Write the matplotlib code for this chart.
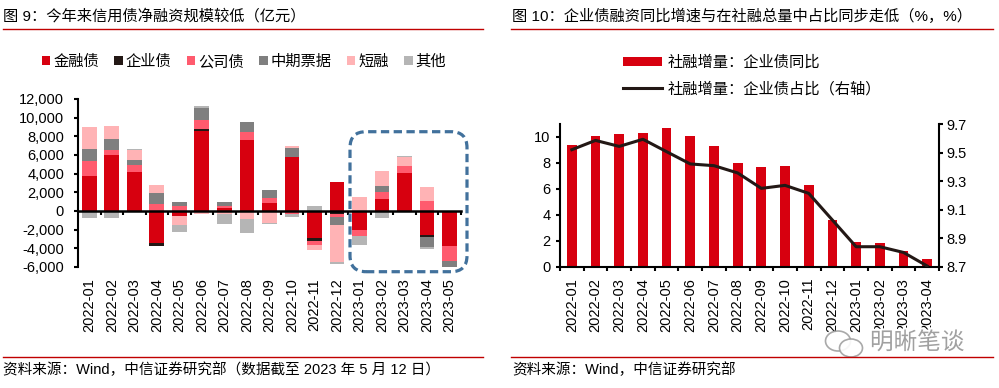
import numpy as np
import matplotlib
matplotlib.use("Agg")
import matplotlib.pyplot as plt
from matplotlib.patches import Patch, FancyBboxPatch, Ellipse
from matplotlib.lines import Line2D
from matplotlib.ticker import FuncFormatter
import matplotlib.patheffects as pe

plt.rcParams['font.family'] = ['Liberation Sans', 'Noto Sans CJK SC']
plt.rcParams['axes.unicode_minus'] = False

# ---- 图9 data (亿元)
months9 = ['2022-01', '2022-02', '2022-03', '2022-04', '2022-05', '2022-06',
           '2022-07', '2022-08', '2022-09', '2022-10', '2022-11', '2022-12',
           '2023-01', '2023-02', '2023-03', '2023-04', '2023-05']
fin_bond = [3800, 6000, 4200, -3400, -570, 8600, 300, 7600, 900, 5820,
            -2930, 3100, -2000, 1320, 4100, -2600, -3710]
ent_bond = [0, 0, 0, -350, 0, 220, 0, 0, 0, 0, -280, -290, -60, 0, 0, -180, 0]
corp_bond = [1600, 500, 750, 800, 540, 970, 250, 820, 500, -320, -400, -360,
             -600, 750, 680, 1070, -1640]
mtn = [1200, 1180, 470, 1130, 390, 1280, 450, 1100, 900, 890, 0, -860,
       0, 640, 0, -1040, -820]
short_fin = [2450, 1430, 1100, 820, -930, -320, -300, -900, -1250, 250,
             -570, -3930, 1500, 1570, 960, 1460, 0]
others = [-800, -700, 140, 0, -790, 130, -1060, -1500, -180, -360, 500,
          -250, -930, -710, 140, -220, 0]
series9 = ['金融债', '企业债', '公司债', '中期票据', '短融', '其他']
colors9 = ['#D7000F', '#231815', '#FF5B6E', '#7F7F7F', '#FFB3B5', '#B5B5B5']

# ---- 图10 data
months10 = months9[:16]
yoy = [9.39, 10.08, 10.2, 10.31, 10.69, 10.08, 9.31, 7.98, 7.67, 7.8,
       6.29, 3.58, 1.87, 1.79, 1.18, 0.59]
share = [9.52, 9.585, 9.543, 9.593, 9.506, 9.42, 9.408, 9.357, 9.249, 9.27,
         9.214, 9.027, 8.84, 8.84, 8.80, 8.705]

W, H = 999, 388
fig = plt.figure(figsize=(W / 100, H / 100), dpi=100)


def fx(px):
    return px / W


def fy(py):
    return 1 - py / H


# ---------------- left chart ----------------
ax1 = fig.add_axes([fx(78), fy(267), fx(460.7) - fx(78), fy(99) - fy(267)])
x9 = np.arange(len(months9))
pos_base = np.zeros(len(x9))
neg_base = np.zeros(len(x9))
for vals, c in zip([fin_bond, ent_bond, corp_bond, mtn, short_fin, others], colors9):
    v = np.array(vals, dtype=float)
    base = np.where(v >= 0, pos_base, neg_base)
    ax1.bar(x9, v, width=0.65, bottom=base, color=c, linewidth=0)
    pos_base += np.clip(v, 0, None)
    neg_base += np.clip(v, None, 0)

ax1.set_xlim(-0.5, len(x9) - 0.5)
ax1.set_ylim(-6000, 12000)
ax1.set_yticks(range(-6000, 12001, 2000))
ax1.yaxis.set_major_formatter(FuncFormatter(lambda v, p: f'{int(v):,}'))
for s in ['top', 'right']:
    ax1.spines[s].set_visible(False)
ax1.spines['left'].set_linewidth(1.5)
ax1.spines['bottom'].set_position(('data', 0))
ax1.spines['bottom'].set_linewidth(1.8)
ax1.set_xticks(np.arange(0.5, len(x9), 1.0))
ax1.tick_params(axis='x', length=3, width=1.5, labelbottom=False)
ax1.tick_params(axis='y', length=3, width=1.5, pad=7, labelsize=10.5)
for i, m in enumerate(months9):
    ax1.annotate(m, xy=(i, 0), xycoords=('data', 'axes fraction'),
                 xytext=(0, -8), textcoords='offset points',
                 rotation=90, ha='center', va='top', fontsize=10.5)

fig.legend([Patch(facecolor=c) for c in colors9], series9, ncol=6,
           loc='center', bbox_to_anchor=(fx(244), fy(62)), frameon=False,
           fontsize=11, handlelength=0.55, handleheight=0.55,
           handletextpad=0.2, columnspacing=1.0, borderpad=0)

fig.add_artist(FancyBboxPatch((3.50, 1.163), 1.17, 1.40,
                              boxstyle='round,pad=0,rounding_size=0.16',
                              transform=fig.dpi_scale_trans, fill=False,
                              ec='#41719C', lw=2.3, ls=(0, (2.6, 1.4))))

# ---------------- right chart ----------------
ax2 = fig.add_axes([fx(560), fy(266.7), fx(939) - fx(560), fy(124) - fy(266.7)])
x10 = np.arange(len(months10))
ax2.bar(x10, yoy, width=0.41, color='#D7000F', linewidth=0)
ax2.set_xlim(-0.5, len(x10) - 0.5)
ax2.set_ylim(0, 11)
ax2.set_yticks(range(0, 11, 2))
ax2.set_xticks(x10)
ax2.set_xticklabels(months10, rotation=90, fontsize=10.5)
ax2.set_xticks(np.arange(-0.5, len(x10), 1.0), minor=True)
ax2.tick_params(axis='x', which='major', length=0, pad=8)
ax2.tick_params(axis='x', which='minor', length=3, width=1.5)
ax2.tick_params(axis='y', length=3, width=1.5, pad=4, labelsize=10.5)
ax2.spines['top'].set_visible(False)
ax2.spines['right'].set_visible(False)
for s in ['left', 'bottom']:
    ax2.spines[s].set_linewidth(1.5)

ax3 = ax2.twinx()
ax3.plot(x10, share, color='#231815', lw=2.2)
ax3.set_ylim(8.7, 9.7)
ax3.set_yticks(np.round(np.arange(8.7, 9.71, 0.2), 1))
ax3.yaxis.set_major_formatter(FuncFormatter(lambda v, p: f'{v:.1f}'))
ax3.tick_params(axis='y', length=3, width=1.5, pad=2, labelsize=10.5)
for s in ['top', 'left', 'bottom']:
    ax3.spines[s].set_visible(False)
ax3.spines['right'].set_linewidth(1.5)

fig.legend([Patch(facecolor='#D7000F'), Line2D([], [], color='#231815', lw=2.2)],
           ['社融增量：企业债同比', '社融增量：企业债占比（右轴）'],
           loc='center left', bbox_to_anchor=(fx(615), fy(76)), frameon=False,
           fontsize=11, handlelength=2.6, handleheight=0.5,
           handletextpad=0.35, labelspacing=0.75, borderpad=0)

# ---------------- titles / sources ----------------
fig.text(fx(3), fy(16), '图 9：今年来信用债净融资规模较低（亿元）', fontsize=11,
         ha='left', va='center')
fig.text(fx(512), fy(16), '图 10：企业债融资同比增速与在社融总量中占比同步走低（%，%）',
         fontsize=11, ha='left', va='center')
for x0, x1 in [(3, 483), (511, 993)]:
    for yy in (28.5, 356.5):
        fig.add_artist(Line2D([fx(x0), fx(x1)], [fy(yy), fy(yy)],
                              color='#C00000', lw=1, transform=fig.transFigure))
fig.text(fx(3), fy(370), '资料来源：Wind，中信证券研究部（数据截至 2023 年 5 月 12 日）',
         fontsize=10.5, ha='left', va='center')
fig.text(fx(512), fy(370), '资料来源：Wind，中信证券研究部', fontsize=10.5,
         ha='left', va='center')

# watermark
for cx, cy, w, h in [(8.38, 0.47, 0.25, 0.20), (8.51, 0.40, 0.23, 0.18)]:
    fig.add_artist(Ellipse((cx, cy), w, h, transform=fig.dpi_scale_trans,
                           fc='white', ec='#A0A0A0', lw=1.2, alpha=0.9))
fig.text(fx(870), fy(343), '明晰笔谈', fontsize=17, color='#A0A0A0',
         ha='left', va='center',
         path_effects=[pe.withStroke(linewidth=3, foreground='white')])

fig.savefig('out.png', dpi=100)
